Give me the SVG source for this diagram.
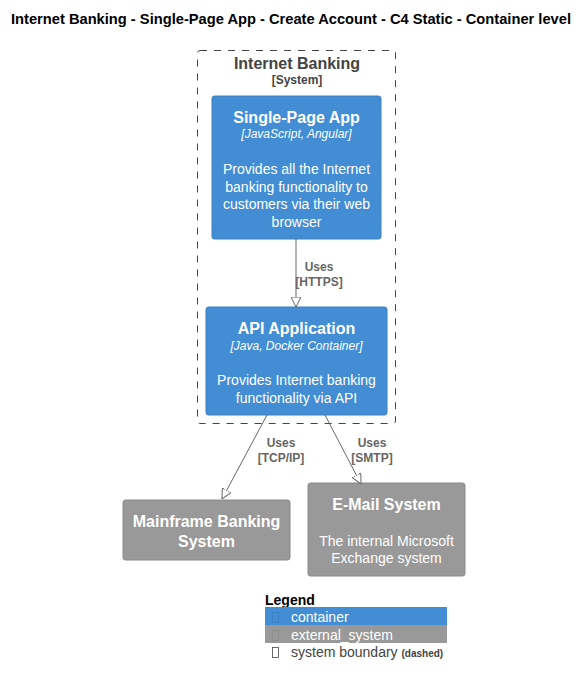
<svg xmlns="http://www.w3.org/2000/svg" width="588" height="686" viewBox="0 0 588 686">
<defs>
<style>
text{font-family:"Liberation Sans",Arial,sans-serif}
.ttl{font-size:14px;font-weight:bold;fill:#000}
.bt{font-size:16px;font-weight:bold;fill:#444;text-anchor:middle}
.bs{font-size:12px;font-weight:bold;fill:#444;text-anchor:middle}
.cont{fill:#438DD5;stroke:#3C7FC0;stroke-width:1}
.ext{fill:#999999;stroke:#8A8A8A;stroke-width:1}
.nt{font-size:16px;font-weight:bold;fill:#fff;text-anchor:middle}
.tech{font-size:12px;font-style:italic;fill:#fff;text-anchor:middle}
.desc{font-size:14px;fill:#fff;text-anchor:middle}
.lbl{font-size:12px;font-weight:bold;fill:#666;text-anchor:middle}
.edge{stroke:#666;stroke-width:1;fill:none}
.lg{font-size:14px;font-weight:bold;fill:#000}
.li{font-size:14px;fill:#fff}
.tofu{fill:none;stroke-width:0.8}
</style>
<marker id="ah" viewBox="0 0 10 10" refX="10" refY="5" markerWidth="10" markerHeight="10" markerUnits="userSpaceOnUse" orient="auto">
<path d="M0,0 L10,5 L0,10 Z" fill="#fff" stroke="#666" stroke-width="1"/>
</marker>
</defs>
<rect width="588" height="686" fill="#fff"/>
<text class="ttl" x="11" y="24" textLength="560" lengthAdjust="spacingAndGlyphs">Internet Banking - Single-Page App - Create Account - C4 Static - Container level</text>

<g id="boundary">
<rect x="197.5" y="50.5" width="198" height="373" rx="2.5" fill="none" stroke="#444" stroke-width="1" stroke-dasharray="7,7"/>
<text class="bt" x="297" y="69">Internet Banking</text>
<text class="bs" x="297" y="84">[System]</text>
</g>

<g id="spa">
<rect class="cont" x="212" y="96" width="169" height="143" rx="2.5"/>
<text class="nt" x="296.5" y="123">Single-Page App</text>
<text class="tech" x="296.5" y="138">[JavaScript, Angular]</text>
<text class="desc" x="296.5" y="174">Provides all the Internet</text>
<text class="desc" x="296.5" y="192">banking functionality to</text>
<text class="desc" x="296.5" y="209">customers via their web</text>
<text class="desc" x="296.5" y="227">browser</text>
</g>

<g id="api">
<rect class="cont" x="206" y="307" width="181" height="108" rx="2.5"/>
<text class="nt" x="296.5" y="334">API Application</text>
<text class="tech" x="296.5" y="350">[Java, Docker Container]</text>
<text class="desc" x="296.5" y="385">Provides Internet banking</text>
<text class="desc" x="296.5" y="403">functionality via API</text>
</g>

<g id="mainframe">
<rect class="ext" x="123" y="500" width="167" height="60" rx="2.5"/>
<text class="nt" x="206.5" y="527">Mainframe Banking</text>
<text class="nt" x="206.5" y="547">System</text>
</g>

<g id="email">
<rect class="ext" x="308" y="483" width="157" height="93" rx="2.5"/>
<text class="nt" x="386.5" y="510">E-Mail System</text>
<text class="desc" x="386.5" y="546">The internal Microsoft</text>
<text class="desc" x="386.5" y="563">Exchange system</text>
</g>

<g id="connectors">
<line class="edge" x1="296" y1="239" x2="296" y2="307" marker-end="url(#ah)"/>
<text class="lbl" x="319" y="271">Uses</text>
<text class="lbl" x="319" y="286">[HTTPS]</text>
<line class="edge" x1="267" y1="415" x2="222" y2="499" marker-end="url(#ah)"/>
<text class="lbl" x="281" y="447">Uses</text>
<text class="lbl" x="281" y="462">[TCP/IP]</text>
<line class="edge" x1="325" y1="415" x2="361" y2="484" marker-end="url(#ah)"/>
<text class="lbl" x="372" y="447">Uses</text>
<text class="lbl" x="372" y="462">[SMTP]</text>
</g>

<g id="legend">
<text class="lg" x="265" y="605">Legend</text>
<rect x="265" y="607" width="182" height="18" fill="#438DD5"/>
<rect class="tofu" x="272.5" y="612.5" width="6" height="10" stroke="#3C7FC0"/>
<text class="li" x="291" y="622">container</text>
<rect x="265" y="625" width="182" height="18" fill="#999999"/>
<rect class="tofu" x="272.5" y="630.5" width="6" height="10" stroke="#8A8A8A"/>
<text class="li" x="291" y="640">external_system</text>
<rect class="tofu" x="272.5" y="647.5" width="6" height="10" stroke="#444"/>
<text x="291" y="657" font-size="14" fill="#444">system boundary <tspan font-size="10" font-weight="bold">(dashed)</tspan></text>
</g>
</svg>
